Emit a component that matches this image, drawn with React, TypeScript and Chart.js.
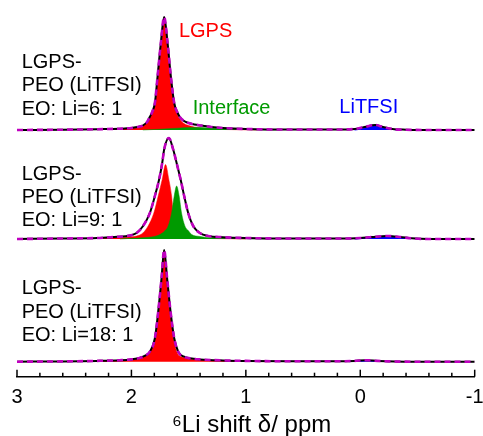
import React, { useEffect, useRef } from "react";
import { Chart, registerables } from "chart.js";

Chart.register(...registerables);

// x axis: 6Li chemical shift (ppm), reversed
const X_MIN = -1;
const X_MAX = 3;
const X_STEP = 0.2;
const X_TITLE = "\u2076Li shift \u03B4/ ppm";

// vertical stacking offsets of the three spectra (intensity units)
const PANEL_OFFSETS = [246.7, 137.7, 15];

// ---- EO:Li = 6:1 (top) ----  [ppm, intensity]
const spectrum6: number[][] = [
  [3.0, 0], [2.6, 0.3], [2.3, 0.8], [2.1, 1.3], [2.0, 2], [1.95, 3], [1.9, 4.5], [1.86, 8.5],
  [1.84, 13], [1.815, 19], [1.795, 27], [1.772, 53], [1.743, 87], [1.714, 113], [1.684, 87],
  [1.655, 53], [1.626, 27], [1.6, 18], [1.577, 13], [1.54, 9], [1.5, 7], [1.45, 5.5], [1.39, 4.5],
  [1.3, 3], [1.2, 2], [1.0, 1], [0.6, 0.5], [0.2, 0.5], [0.05, 1], [-0.05, 3.3], [-0.13, 5],
  [-0.2, 3], [-0.28, 1], [-0.4, 0.3], [-0.6, 0], [-1.0, 0],
];
const lgps6: number[][] = [
  [2.3, 0.5], [2.05, 1.3], [1.95, 2.8], [1.9, 4.3], [1.86, 8.3], [1.84, 12.5], [1.815, 19],
  [1.795, 27], [1.772, 53], [1.743, 87], [1.714, 113], [1.684, 87], [1.655, 53], [1.626, 26],
  [1.6, 16], [1.577, 11], [1.54, 6.5], [1.5, 4.5], [1.45, 3], [1.39, 2], [1.3, 1], [1.1, 0.3], [0.9, 0],
];
const interface6: number[][] = [
  [1.9, 0], [1.75, 0.8], [1.6, 1.8], [1.5, 2.4], [1.42, 2.5], [1.35, 2.2], [1.25, 1.5],
  [1.1, 0.7], [0.9, 0.2], [0.7, 0],
];
const litfsi6: number[][] = [
  [0.05, 0], [0.0, 0.8], [-0.05, 2.5], [-0.1, 4.5], [-0.13, 5], [-0.17, 4], [-0.22, 2],
  [-0.28, 0.6], [-0.35, 0],
];

// ---- EO:Li = 9:1 (middle) ----
const spectrum9: number[][] = [
  [3.0, 0], [2.6, 0.5], [2.3, 1], [2.15, 2], [2.05, 2.8], [2.014, 3.5], [1.955, 6], [1.898, 13],
  [1.839, 26], [1.795, 43], [1.758, 59.5], [1.731, 76], [1.714, 89.5], [1.673, 101], [1.635, 89.5],
  [1.605, 76], [1.57, 59.5], [1.539, 43], [1.504, 26], [1.46, 13], [1.402, 6], [1.329, 3],
  [1.2, 1.8], [1.0, 1], [0.6, 0.5], [0.2, 0.5], [0.0, 1], [-0.1, 2], [-0.24, 3], [-0.35, 2],
  [-0.45, 0.7], [-0.6, 0], [-1.0, 0],
];
const lgps9: number[][] = [
  [2.3, 0.5], [2.1, 1.5], [2.0, 2.2], [1.955, 3], [1.9, 6], [1.854, 13], [1.804, 26], [1.766, 43],
  [1.731, 59.5], [1.702, 74.5], [1.673, 59.5], [1.649, 43], [1.635, 26], [1.61, 13], [1.57, 6],
  [1.5, 2.5], [1.4, 1], [1.2, 0.3], [1.0, 0],
];
const interface9: number[][] = [
  [2.1, 0], [2.0, 0.7], [1.9, 1.2], [1.8, 2.5], [1.751, 4.5], [1.71, 8], [1.679, 13], [1.649, 26],
  [1.626, 43], [1.605, 53], [1.583, 43], [1.562, 26], [1.533, 13], [1.5, 8], [1.474, 4.5],
  [1.4, 2.5], [1.343, 1.5], [1.2, 0.7], [1.0, 0.2], [0.8, 0],
];
const litfsi9: number[][] = [
  [0.05, 0], [-0.05, 0.8], [-0.15, 2], [-0.24, 3], [-0.33, 2], [-0.42, 0.8], [-0.52, 0],
];

// ---- EO:Li = 18:1 (bottom) ----
const spectrum18: number[][] = [
  [3.0, 0], [2.6, 0.3], [2.3, 0.8], [2.1, 1.5], [2.0, 2.3], [1.941, 3.4], [1.88, 6], [1.839, 10],
  [1.795, 23.4], [1.766, 50], [1.737, 83.4], [1.714, 111.7], [1.688, 83.4], [1.658, 50],
  [1.626, 23.4], [1.591, 10], [1.54, 5], [1.489, 3.4], [1.4, 2.3], [1.2, 1.3], [1.0, 0.8],
  [0.6, 0.4], [0.2, 0.4], [0.05, 0.8], [-0.05, 1.5], [-0.15, 0.8], [-0.3, 0.2], [-0.5, 0], [-1.0, 0],
];
const lgps18: number[][] = [
  [2.3, 0.6], [2.1, 1.3], [2.0, 2.1], [1.941, 3.2], [1.88, 5.8], [1.839, 10], [1.795, 23.4],
  [1.766, 50], [1.737, 83.4], [1.714, 111.7], [1.69, 83.4], [1.662, 50], [1.632, 23.4],
  [1.6, 9], [1.55, 4.5], [1.49, 2.8], [1.4, 1.8], [1.2, 0.8], [1.0, 0.3], [0.8, 0],
];
const litfsi18: number[][] = [
  [0.1, 0], [0.0, 0.8], [-0.05, 1.2], [-0.12, 0.8], [-0.25, 0],
];

const SPECTRA = [spectrum6, spectrum9, spectrum18];
const LGPS = [lgps6, lgps9, lgps18];
const INTERFACE = [interface6, interface9, null];
const LITFSI = [litfsi6, litfsi9, litfsi18];

const SAMPLE_LABELS = [
  ["LGPS-", "PEO (LiTFSI)", "EO: Li=6: 1"],
  ["LGPS-", "PEO (LiTFSI)", "EO: Li=9: 1"],
  ["LGPS-", "PEO (LiTFSI)", "EO: Li=18: 1"],
];

const FONT = '"Liberation Sans", Arial, sans-serif';
const RED = "#ff0000";
const GREEN = "#009a00";
const BLUE = "#0000ff";
const FIT = "#bf00bf";

export default function App() {
  const ref = useRef<HTMLCanvasElement | null>(null);

  useEffect(() => {
    document.body.style.margin = "0";
    const canvas = ref.current;
    if (!canvas) return;

    const toPts = (arr: number[][], off: number) => arr.map(([x, y]) => ({ x, y: y + off }));
    const datasets: any[] = [];
    SPECTRA.forEach((spec, i) => {
      const off = PANEL_OFFSETS[i];
      datasets.push({
        data: toPts(spec, off), borderColor: FIT, borderWidth: 2.6, borderDash: [6, 4],
        fill: false, order: 0,
      });
      datasets.push({
        data: toPts(spec, off), borderColor: "#000", borderWidth: 2, fill: false, order: 1,
      });
      datasets.push({
        data: toPts(LITFSI[i], off), borderColor: BLUE, borderWidth: 1, backgroundColor: BLUE,
        fill: { value: off }, order: 2,
      });
      const itf = INTERFACE[i];
      if (itf) {
        datasets.push({
          data: toPts(itf, off), borderColor: GREEN, borderWidth: 0.5, backgroundColor: GREEN,
          fill: { value: off }, order: 3,
        });
      }
      datasets.push({
        data: toPts(LGPS[i], off), borderColor: RED, borderWidth: 0.5, backgroundColor: RED,
        fill: { value: off }, order: 4,
      });
    });

    const isInt = (v: number) => Math.abs(v - Math.round(v)) < 1e-6;

    // y positions (chart units) of the three text rows of each panel
    const labelRows = [
      [314, 291.4, 267.6],
      [202.5, 179.5, 156.5],
      [88, 64.7, 41],
    ];

    const overlay = {
      id: "overlay",
      afterDraw(chart: any) {
        const ctx = chart.ctx;
        const xs = chart.scales.x;
        const ys = chart.scales.y;
        ctx.save();
        ctx.strokeStyle = "#000";
        ctx.lineWidth = 1.5;
        const axisY = xs.top;
        xs.ticks.forEach((t: any) => {
          const px = xs.getPixelForValue(t.value);
          const len = isInt(t.value) ? 7 : 4;
          ctx.beginPath();
          ctx.moveTo(px, axisY);
          ctx.lineTo(px, axisY - len);
          ctx.stroke();
        });
        ctx.textAlign = "left";
        ctx.textBaseline = "middle";
        ctx.font = `20px ${FONT}`;
        SAMPLE_LABELS.forEach((lines, i) => {
          lines.forEach((txt, j) => {
            ctx.fillStyle = "#000";
            ctx.fillText(txt, xs.getPixelForValue(2.959), ys.getPixelForValue(labelRows[i][j]));
          });
        });
        const off = PANEL_OFFSETS[0];
        ctx.fillStyle = RED;
        ctx.fillText("LGPS", xs.getPixelForValue(1.585), ys.getPixelForValue(off + 99));
        ctx.fillStyle = GREEN;
        ctx.fillText("Interface", xs.getPixelForValue(1.465), ys.getPixelForValue(off + 21.5));
        ctx.fillStyle = BLUE;
        ctx.fillText("LiTFSI", xs.getPixelForValue(0.183), ys.getPixelForValue(off + 23));
        // axis title, centred slightly right of the plot centre as in the original
        ctx.fillStyle = "#000";
        ctx.textAlign = "center";
        ctx.font = `24px ${FONT}`;
        ctx.fillText(X_TITLE, xs.getPixelForValue(0.95), 425.5);
        ctx.restore();
      },
    };

    const chart = new Chart(canvas, {
      type: "line",
      data: { datasets },
      plugins: [overlay],
      options: {
        responsive: false,
        animation: false,
        layout: { padding: { left: 17, right: 8.3, top: 0, bottom: 0 } },
        elements: {
          point: { radius: 0, hoverRadius: 0 },
          line: { cubicInterpolationMode: "monotone" },
        },
        plugins: { legend: { display: false }, tooltip: { enabled: false } },
        scales: {
          x: {
            type: "linear",
            min: X_MIN,
            max: X_MAX,
            reverse: true,
            afterFit: (scale: any) => {
              scale.paddingLeft = 0;
              scale.paddingRight = 0;
              scale.height = 59.3;
            },
            border: { display: true, color: "#000", width: 1.5 },
            grid: { display: true, drawOnChartArea: false, drawTicks: false },
            ticks: {
              stepSize: X_STEP,
              maxTicksLimit: 100,
              autoSkip: false,
              maxRotation: 0,
              padding: 9,
              color: "#000",
              font: { family: FONT, size: 20, lineHeight: 1.2 },
              callback: (v: any) => (isInt(Number(v)) ? String(Math.round(Number(v))) : ""),
            },
            title: { display: false },
          },
          y: { display: false, min: 0, max: 376.7 },
        },
      },
    });
    return () => chart.destroy();
  }, []);

  return <canvas ref={ref} width={483} height={436} style={{ display: "block" }} />;
}
